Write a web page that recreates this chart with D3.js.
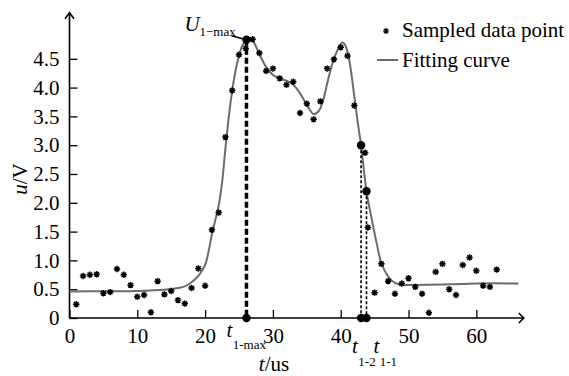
<!DOCTYPE html>
<html><head><meta charset="utf-8">
<script src="https://cdn.jsdelivr.net/npm/d3@7"></script>
<style>
html,body{margin:0;padding:0;background:#fff;}
svg{display:block;}
text{font-family:"Liberation Serif","Times New Roman",serif;fill:#000;}
</style></head>
<body>
<svg id="chart" width="569" height="376"></svg>
<script>
// ---- data ----
const sampleT = [1,2,3,4,5,6,7,8,9,10,11,12,13,14,15,16,17,18,19,20,21,22,23,24,25,26,27,28,29,30,31,32,33,34,35,36,37,38,39,40,41,42,43.6,44,45,46,47,48,49,50,51,52,53,54,55,56,57,58,59,60,61,62,63];
const sampleU = [0.24,0.73,0.75,0.76,0.43,0.45,0.85,0.75,0.57,0.37,0.40,0.10,0.64,0.41,0.47,0.31,0.25,0.52,0.86,0.56,1.53,1.83,3.14,3.95,4.57,4.68,4.84,4.60,4.29,4.33,4.16,4.05,4.10,3.56,3.72,3.45,3.76,4.33,4.49,4.70,4.55,3.69,2.87,1.57,0.44,0.94,0.64,0.42,0.60,0.69,0.54,0.42,0.09,0.80,0.94,0.50,0.40,0.92,1.05,0.82,0.56,0.54,0.84];
const curveT = [0,5,10,14,16,17,18,19,20,20.5,21,21.5,22,22.5,23,23.5,24,24.5,25,25.5,26.1,26.6,27.1,28,29,30,31,32,33,34,35,36,36.8,37.5,38,39,40.2,40.6,41.1,41.5,42,42.5,43,43.8,44.6,45.3,46,47,48,49,50,55,58,60,66.2];
const curveU = [0.46,0.465,0.47,0.49,0.52,0.55,0.62,0.73,0.92,1.15,1.45,1.70,1.95,2.35,2.95,3.5,3.95,4.3,4.55,4.73,4.83,4.84,4.80,4.58,4.36,4.22,4.16,4.12,4.05,3.90,3.70,3.54,3.60,3.82,4.07,4.50,4.78,4.75,4.57,4.30,3.85,3.40,3.00,2.20,1.70,1.30,0.95,0.72,0.61,0.575,0.575,0.58,0.59,0.60,0.60];
const yTicks = [0,0.5,1.0,1.5,2.0,2.5,3.0,3.5,4.0,4.5];
const yTickLabels = ["0","0.5","1.0","1.5","2.0","2.5","3.0","3.5","4.0","4.5"];
const xTicks = [0,10,20,30,40,50,60];
const xTickLabels = ["0","10","20","30","40","50","60"];
const markT = [26.1,43.0,43.8];
const markU = [4.83,3.0,2.2];
const markSub = ["1-max","1-2","1-1"];
const legendLabels = ["Sampled data point","Fitting curve"];

// ---- layout ----
const svg = d3.select("#chart");
const x = d3.scaleLinear().domain([0,67]).range([69.5,523.8]);
const y = d3.scaleLinear().domain([0,5.3]).range([318,12.7]);
const FS = 21;

// axes
const yAxis = d3.axisLeft(y).tickValues(yTicks).tickFormat((d,i)=>yTickLabels[i]).tickSizeInner(-8).tickSizeOuter(0).tickPadding(10);
const gy = svg.append("g").attr("transform",`translate(${x(0)},0)`).call(yAxis);
gy.select(".domain").remove();
gy.selectAll("line").attr("stroke","#000").attr("stroke-width",1.3);
gy.selectAll("text").attr("font-size",FS);

const xAxis = d3.axisBottom(x).tickValues(xTicks).tickFormat((d,i)=>xTickLabels[i]).tickSizeInner(-8).tickSizeOuter(0).tickPadding(10);
const gx = svg.append("g").attr("transform",`translate(0,${y(0)})`).call(xAxis);
gx.select(".domain").remove();
gx.selectAll("line").attr("stroke","#000").attr("stroke-width",1.3);
gx.selectAll("text").attr("font-size",FS);

// axis lines with arrows
const x0 = x(0), y0 = y(0), xEnd = x(67), yEnd = y(5.3);
svg.append("path").attr("d",`M${x0},${y0}V${yEnd}M${x0-4.5},${yEnd+6}L${x0},${yEnd}L${x0+4.5},${yEnd+6}`)
  .attr("fill","none").attr("stroke","#000").attr("stroke-width",1.6);
svg.append("path").attr("d",`M${x0},${y0}H${xEnd}M${xEnd-5},${y0-5}L${xEnd},${y0}L${xEnd-5},${y0+5}`)
  .attr("fill","none").attr("stroke","#000").attr("stroke-width",1.6);

// fitting curve
const line = d3.line().x(d=>x(d[0])).y(d=>y(d[1])).curve(d3.curveCatmullRom.alpha(0.5));
svg.append("path").datum(curveT.map((t,i)=>[t,curveU[i]]))
  .attr("d",line).attr("fill","none").attr("stroke","#6b6b6b").attr("stroke-width",2);

// asterisk symbol
function star(cx,cy,r){
  let d="";
  for(let k=0;k<4;k++){
    const a=k*Math.PI/4+Math.PI/2;
    const dx=r*Math.cos(a), dy=r*Math.sin(a);
    d+=`M${cx-dx},${cy-dy}L${cx+dx},${cy+dy}`;
  }
  return d;
}
svg.append("g").selectAll("path").data(sampleT.map((t,i)=>[t,sampleU[i]])).join("path")
  .attr("d",d=>star(x(d[0]),y(d[1]),3.2)).attr("stroke","#000").attr("stroke-width",1.5).attr("fill","none");

// marker dashed lines and dots
const widths=[3.5,1.6,1.6], dashes=["6,3","3,2","3,2"];
markT.forEach((t,i)=>{
  svg.append("line").attr("x1",x(t)).attr("x2",x(t)).attr("y1",y(markU[i])).attr("y2",y(0))
    .attr("stroke","#000").attr("stroke-width",widths[i]).attr("stroke-dasharray",dashes[i]);
  svg.append("circle").attr("cx",x(t)).attr("cy",y(markU[i])).attr("r",4.2).attr("fill","#000");
  svg.append("circle").attr("cx",x(t)).attr("cy",y(0)).attr("r",4.2).attr("fill","#000");
});

// t labels under axis
const tOffX=[-20,-9,7], tBase=[337,353,353], subDy=[12,13,13];
markT.forEach((t,i)=>{
  const tx = x(t)+tOffX[i];
  svg.append("text").attr("x",tx).attr("y",tBase[i]).attr("font-size",FS).attr("font-style","italic").text("t");
  svg.append("text").attr("x",tx+6.3).attr("y",tBase[i]+subDy[i]).attr("font-size",13).text(markSub[i]);
});

// U_1-max label with leader
const px=x(markT[0]), py=y(markU[0]);
svg.append("line").attr("x1",px-15).attr("y1",py-4).attr("x2",px).attr("y2",py).attr("stroke","#000").attr("stroke-width",1.5);
svg.append("text").attr("x",px-62).attr("y",py-9).attr("font-size",FS).attr("font-style","italic").text("U");
svg.append("text").attr("x",px-47).attr("y",py-3.5).attr("font-size",13).text("1\u2212max");

// axis titles
const xt = svg.append("text").attr("x",274).attr("y",371).attr("font-size",FS).attr("text-anchor","middle");
xt.append("tspan").attr("font-style","italic").text("t");
xt.append("tspan").text("/us");
const yt = svg.append("text").attr("transform","translate(27,179) rotate(-90)").attr("font-size",FS).attr("text-anchor","middle");
yt.append("tspan").attr("font-style","italic").text("u");
yt.append("tspan").text("/V");

// legend
svg.append("path").attr("d",star(386,31,3)).attr("stroke","#000").attr("stroke-width",1.2);
svg.append("text").attr("x",402).attr("y",37).attr("font-size",FS).text(legendLabels[0]);
svg.append("line").attr("x1",377).attr("x2",398).attr("y1",60).attr("y2",60).attr("stroke","#6b6b6b").attr("stroke-width",2);
svg.append("text").attr("x",402).attr("y",67).attr("font-size",FS).text(legendLabels[1]);
</script>
</body></html>
